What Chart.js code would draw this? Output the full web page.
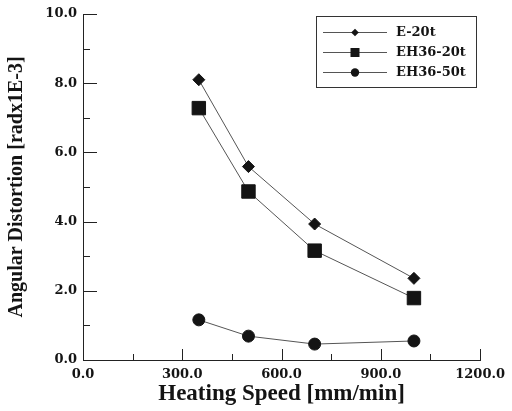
<!DOCTYPE html>
<html>
<head>
<meta charset="utf-8">
<script src="https://cdn.jsdelivr.net/npm/chart.js@4.4.1/dist/chart.umd.min.js"></script>
<style>
  html, body { margin: 0; padding: 0; background: #fff; }
  #wrap { width: 512px; height: 411px; }
</style>
</head>
<body>
<div id="wrap"><canvas id="myChart" width="512" height="411"></canvas></div>
<script>
// values
const speeds = [350, 500, 700, 1000];
const e20t = [8.10, 5.59, 3.93, 2.36];
const eh36_20t = [7.28, 4.87, 3.16, 1.79];
const eh36_50t = [1.16, 0.69, 0.46, 0.55];
const seriesNames = ['E-20t', 'EH36-20t', 'EH36-50t'];
const xTickValues = [0, 300, 600, 900, 1200];
const yTickValues = [0, 2, 4, 6, 8, 10];

const tickFont = { family: '"DejaVu Serif"', weight: 'bold', size: 13 };
const ink = '#141414';
const lineGray = '#555';

function toPoints(ys) {
    return speeds.map((x, i) => ({ x: x, y: ys[i] }));
}

// ticks pointing into the plot, majors and minors
const innerTicks = {
    id: 'innerTicks',
    afterDraw(chart) {
        const { ctx, chartArea, scales } = chart;
        ctx.save();
        ctx.strokeStyle = '#222';
        ctx.lineWidth = 1;
        ctx.beginPath();
        for (let v = 0; v <= 10; v += 1) {
            const y = Math.round(scales.y.getPixelForValue(v)) + 0.5;
            const len = v % 2 === 0 ? 14 : 7;
            ctx.moveTo(chartArea.left, y);
            ctx.lineTo(chartArea.left + len, y);
        }
        for (let v = 0; v <= 1200; v += 150) {
            const x = Math.round(scales.x.getPixelForValue(v)) + 0.5;
            const len = v % 300 === 0 ? 11 : 6;
            ctx.moveTo(x, chartArea.bottom);
            ctx.lineTo(x, chartArea.bottom - len);
        }
        ctx.stroke();
        ctx.restore();
    }
};

function marker(ctx, style, x, y, r) {
    ctx.beginPath();
    if (style === 'rectRot') {
        ctx.moveTo(x - r, y); ctx.lineTo(x, y - r); ctx.lineTo(x + r, y); ctx.lineTo(x, y + r);
        ctx.closePath();
    } else if (style === 'rect') {
        ctx.rect(x - r, y - r, 2 * r, 2 * r);
    } else {
        ctx.arc(x, y, r, 0, Math.PI * 2);
    }
    ctx.fill();
}

// boxed legend in the upper right
const boxLegend = {
    id: 'boxLegend',
    afterDraw(chart) {
        const ctx = chart.ctx;
        const legendSizes = [3.8, 4.5, 4.2];
        ctx.save();
        ctx.strokeStyle = '#333';
        ctx.lineWidth = 1;
        ctx.strokeRect(316.5, 16.5, 160, 71);
        chart.data.datasets.forEach((ds, i) => {
            const y = 32 + 20 * i;
            ctx.strokeStyle = lineGray;
            ctx.beginPath();
            ctx.moveTo(323, y + 0.5);
            ctx.lineTo(387, y + 0.5);
            ctx.stroke();
            ctx.fillStyle = ink;
            marker(ctx, ds.pointStyle, 355, y + 0.5, legendSizes[i]);
            ctx.font = 'bold 13px "DejaVu Serif"';
            ctx.textBaseline = 'middle';
            ctx.textAlign = 'left';
            ctx.fillText(ds.label, 396, y + 1);
        });
        ctx.restore();
    }
};

const ctx = document.getElementById('myChart').getContext('2d');
const myChart = new Chart(ctx, {
    type: 'scatter',
    data: {
        datasets: [
            {
                label: seriesNames[0],
                data: toPoints(e20t),
                showLine: true,
                borderColor: lineGray,
                borderWidth: 1,
                pointStyle: 'rectRot',
                pointRadius: 6,
                pointBackgroundColor: ink,
                pointBorderColor: ink,
                pointBorderWidth: 1,
            },
            {
                label: seriesNames[1],
                data: toPoints(eh36_20t),
                showLine: true,
                borderColor: lineGray,
                borderWidth: 1,
                pointStyle: 'rect',
                pointRadius: 9.5,
                pointBackgroundColor: ink,
                pointBorderColor: ink,
                pointBorderWidth: 1,
            },
            {
                label: seriesNames[2],
                data: toPoints(eh36_50t),
                showLine: true,
                borderColor: lineGray,
                borderWidth: 1,
                pointStyle: 'circle',
                pointRadius: 6,
                pointBackgroundColor: ink,
                pointBorderColor: ink,
                pointBorderWidth: 1,
            }
        ]
    },
    options: {
        responsive: false,
        animation: false,
        layout: { padding: { top: 14, right: 25, left: 0, bottom: 0 } },
        plugins: {
            legend: { display: false },
            tooltip: { enabled: false }
        },
        scales: {
            x: {
                type: 'linear',
                min: 0,
                max: 1200,
                afterBuildTicks(scale) {
                    scale.ticks = xTickValues.map(v => ({ value: v }));
                },
                afterFit(scale) { scale.height = 51; },
                ticks: {
                    font: tickFont,
                    color: ink,
                    padding: 7,
                    maxRotation: 0,
                    callback: v => v.toFixed(1)
                },
                grid: { drawOnChartArea: false, drawTicks: false },
                border: { display: true, color: '#222', width: 1 },
                title: {
                    display: true,
                    text: 'Heating Speed [mm/min]',
                    color: ink,
                    font: { family: '"Liberation Serif"', weight: 'bold', size: 23 },
                    padding: { top: 0, bottom: 3 }
                }
            },
            y: {
                type: 'linear',
                min: 0,
                max: 10,
                afterBuildTicks(scale) {
                    scale.ticks = yTickValues.map(v => ({ value: v }));
                },
                afterFit(scale) { scale.width = 83; },
                ticks: {
                    font: tickFont,
                    color: ink,
                    padding: 6,
                    callback: v => v.toFixed(1)
                },
                grid: { drawOnChartArea: false, drawTicks: false },
                border: { display: true, color: '#222', width: 1 },
                title: {
                    display: true,
                    text: 'Angular Distortion [radx1E-3]',
                    color: ink,
                    font: { family: '"Liberation Serif"', weight: 'bold', size: 20 },
                    padding: { top: 5, bottom: 0 }
                }
            }
        }
    },
    plugins: [innerTicks, boxLegend]
});
</script>
</body>
</html>
